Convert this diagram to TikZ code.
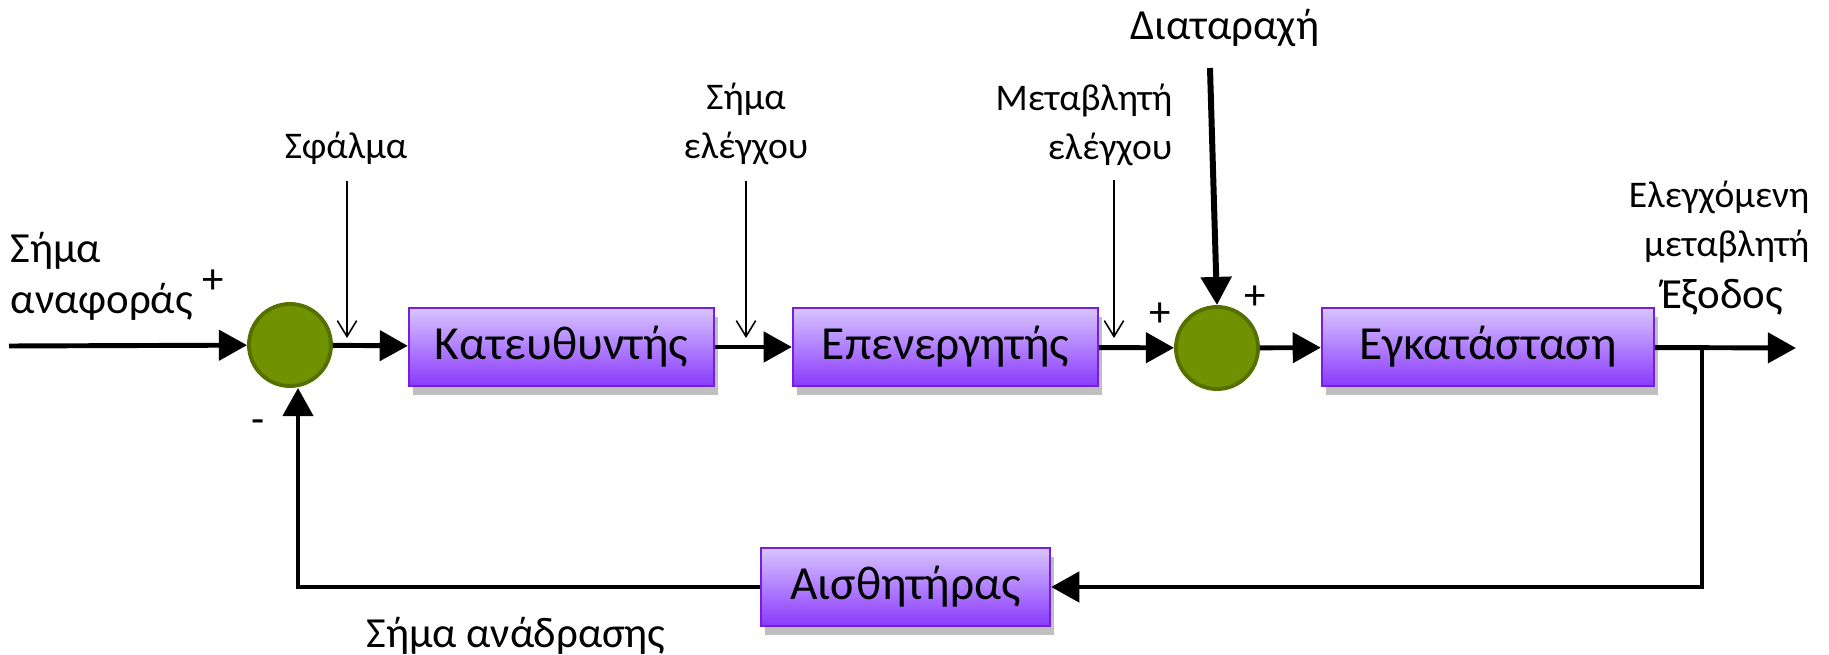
\documentclass[tikz,border=0pt]{standalone}
\usepackage{fontspec}
\setmainfont{Carlito}
\usepackage{xcolor}
\usetikzlibrary{arrows.meta,positioning,shadows}

\definecolor{boxtop}{RGB}{216,196,255}
\definecolor{boxbot}{RGB}{138,58,252}
\definecolor{boxedge}{RGB}{118,30,222}
\definecolor{sumfill}{RGB}{112,146,0}
\definecolor{sumedge}{RGB}{86,112,0}

\begin{document}
\begin{tikzpicture}[x=0.01cm, y=-0.01cm,
  blockbox/.style={rectangle, draw=boxedge, line width=0.6pt,
                   top color=boxtop, bottom color=boxbot,
                   minimum height=0.78cm, inner sep=0pt,
                   font=\fontsize{13.5}{16}\selectfont,
                   drop shadow={shadow xshift=1.2pt, shadow yshift=-2.5pt,
                                opacity=0.25, fill=black}},
  sumnode/.style={circle, draw=sumedge, fill=sumfill, line width=1.1pt,
                  minimum size=0.82cm, inner sep=0pt},
  lbl/.style={font=\fontsize{12.2}{14.4}\selectfont, inner sep=0pt},
  slbl/.style={font=\fontsize{10.7}{14}\selectfont, inner sep=0pt},
  sig/.style={-{Triangle[length=8pt,width=8.5pt]}, line width=1.4pt},
  tap/.style={-{Straight Barb[length=4.5pt,width=5.5pt]}, line width=0.45pt},
]
\useasboundingbox (0,0) rectangle (1829,655);

%% forward path
\coordinate (refin) at (9,346);
\node[sumnode] (s1) at (290,345) {};
\node[blockbox, minimum width=3.05cm] (ctrl) at (561.5,347) {Κατευθυντής};
\node[blockbox, minimum width=3.05cm] (act) at (945.5,347) {Επενεργητής};
\node[sumnode] (s2) at (1217,348) {};
\node[blockbox, minimum width=3.32cm] (plant) at (1488,347) {Εγκατάσταση};
\coordinate (yout) at (1796,348);
\coordinate (ytap) at (1702,348);

%% feedback path
\node[blockbox, minimum width=2.89cm] (sens) at (905.5,587) {Αισθητήρας};
\coordinate (fbk) at (298,587);

%% disturbance input
\coordinate (dist) at (1210,68);

%% labels
\node[lbl, align=left, anchor=north west] (reflbl) at (10,232) {Σήμα\\αναφοράς};
\node[lbl] (plus1) at (213,282) {+};
\node[lbl] (minus1) at (258,427) {-};
\node[slbl] (errlbl) at (346,148) {Σφάλμα};
\node[slbl, align=center] (ulbl) at (746,124) {Σήμα\\ελέγχου};
\node[slbl, align=right, anchor=east] (mlbl) at (1173,125) {Μεταβλητή\\ελέγχου};
\node[lbl] (plus2) at (1160,315) {+};
\node[lbl] (plus3) at (1255,298) {+};
\node[lbl] (distlbl) at (1225,28) {Διαταραχή};
\node[slbl, align=right, anchor=east] (ylbl) at (1810,222) {Ελεγχόμενη\\μεταβλητή};
\node[lbl] (outlbl) at (1722,297) {Έξοδος};
\node[lbl] (fbklbl) at (516,636) {Σήμα ανάδρασης};

%% signal arrows
\draw[sig] (refin) -- (s1);
\draw[sig] (s1) -- (ctrl);
\draw[sig] (ctrl) -- (act);
\draw[sig] (act) -- (s2);
\draw[sig] (s2) -- (plant);
\draw[sig] (plant) -- (yout);
\draw[sig] (ytap) |- (sens);
\draw[sig] (sens) -- (fbk) -- (fbk |- s1.south);
\draw[sig, line width=1.7pt] (dist) -- (s2.north);

%% thin markers pointing at the signals
\coordinate (etop) at (347,181);  \coordinate (etip) at (347,338);
\coordinate (utop) at (746,181);  \coordinate (utip) at (746,338);
\coordinate (mtop) at (1114,180); \coordinate (mtip) at (1114,338);
\draw[tap] (etop) -- (etip);
\draw[tap] (utop) -- (utip);
\draw[tap] (mtop) -- (mtip);

\end{tikzpicture}
\end{document}
